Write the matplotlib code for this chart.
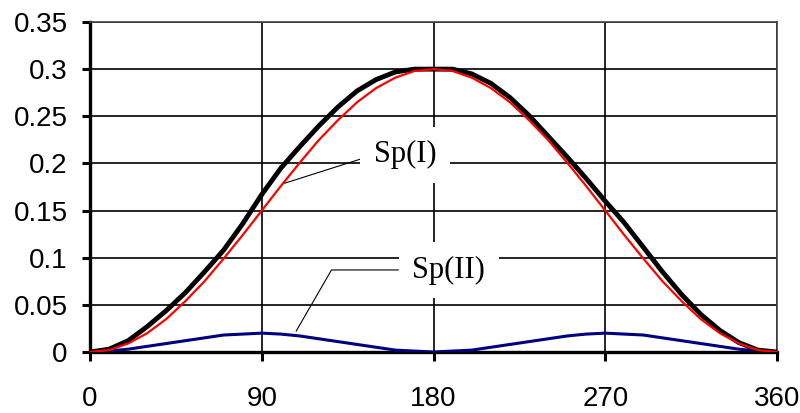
import matplotlib
matplotlib.use('Agg')
import matplotlib.pyplot as plt
import numpy as np

# angle in degrees, read at 10 degree steps
angle = list(range(0, 370, 10))

sp_total = [0.0, 0.003, 0.012, 0.027, 0.044, 0.063, 0.085, 0.108, 0.136, 0.167,
            0.195, 0.218, 0.240, 0.260, 0.277, 0.289, 0.297, 0.300, 0.300, 0.300,
            0.295, 0.285, 0.270, 0.251, 0.229, 0.207, 0.184, 0.160, 0.137, 0.111,
            0.085, 0.061, 0.040, 0.023, 0.010, 0.002, 0.0]

sp_one = [0.0, 0.002, 0.009, 0.020, 0.035, 0.054, 0.075, 0.099, 0.124, 0.150,
          0.176, 0.201, 0.225, 0.246, 0.265, 0.280, 0.291, 0.298, 0.300, 0.298,
          0.291, 0.280, 0.265, 0.246, 0.225, 0.201, 0.176, 0.150, 0.124, 0.099,
          0.075, 0.054, 0.035, 0.020, 0.009, 0.002, 0.0]

sp_two = [0.0, 0.001, 0.003, 0.006, 0.009, 0.012, 0.015, 0.018, 0.019, 0.020,
          0.019, 0.017, 0.014, 0.011, 0.008, 0.005, 0.002, 0.001, 0.0, 0.001,
          0.002, 0.005, 0.008, 0.011, 0.014, 0.017, 0.019, 0.020, 0.019, 0.018,
          0.015, 0.012, 0.009, 0.006, 0.003, 0.001, 0.0]

x_ticks = [0, 90, 180, 270, 360]
y_ticks = [0, 0.05, 0.1, 0.15, 0.2, 0.25, 0.3, 0.35]
y_labels = ['0', '0.05', '0.1', '0.15', '0.2', '0.25', '0.3', '0.35']

plt.rcParams['font.family'] = ['Liberation Sans', 'DejaVu Sans']

fig = plt.figure(figsize=(8, 4.13), dpi=100)
ax = fig.add_axes([90 / 800, 1 - 352 / 413, 687 / 800, 330 / 413])

ax.plot(angle, sp_two, color='#000080', lw=2.2, zorder=3)
ax.plot(angle, sp_total, color='black', lw=3.5, zorder=4)
ax.plot(angle, sp_one, color='red', lw=1.6, zorder=5)

ax.set_xlim(0, 360)
ax.set_ylim(0, 0.35)
ax.set_xticks(x_ticks)
ax.set_yticks(y_ticks)
ax.set_yticklabels(y_labels)
ax.grid(True, color='black', lw=1.2, zorder=1)

for s in ['top', 'right']:
    ax.spines[s].set_linewidth(1.2)
    ax.spines[s].set_color('#444444')
for s in ['left', 'bottom']:
    ax.spines[s].set_linewidth(2.4)
ax.tick_params(axis='y', direction='out', length=6, width=2.2, pad=10, labelsize=20)
ax.tick_params(axis='x', direction='out', length=6.5, width=2.2, pad=18, labelsize=20)

box = dict(boxstyle='square,pad=0.45', facecolor='white', edgecolor='none')
ax.annotate('Sp(I)', xy=(102, 0.179), xytext=(165, 0.209),
            fontsize=22, family='Liberation Serif', ha='center', va='center',
            bbox=box, zorder=6,
            arrowprops=dict(arrowstyle='-', color='black', lw=0.8,
                            shrinkA=0, shrinkB=0, relpos=(0, 0.5)))
ax.annotate('Sp(II)', xy=(108, 0.022), xytext=(188, 0.087),
            fontsize=22, family='Liberation Serif', ha='center', va='center',
            bbox=box, zorder=6,
            arrowprops=dict(arrowstyle='-', color='black', lw=0.8,
                            shrinkA=0, shrinkB=0, relpos=(0, 0.5),
                            connectionstyle='angle,angleA=0,angleB=60,rad=0'))

fig.savefig('out.png', dpi=100)
